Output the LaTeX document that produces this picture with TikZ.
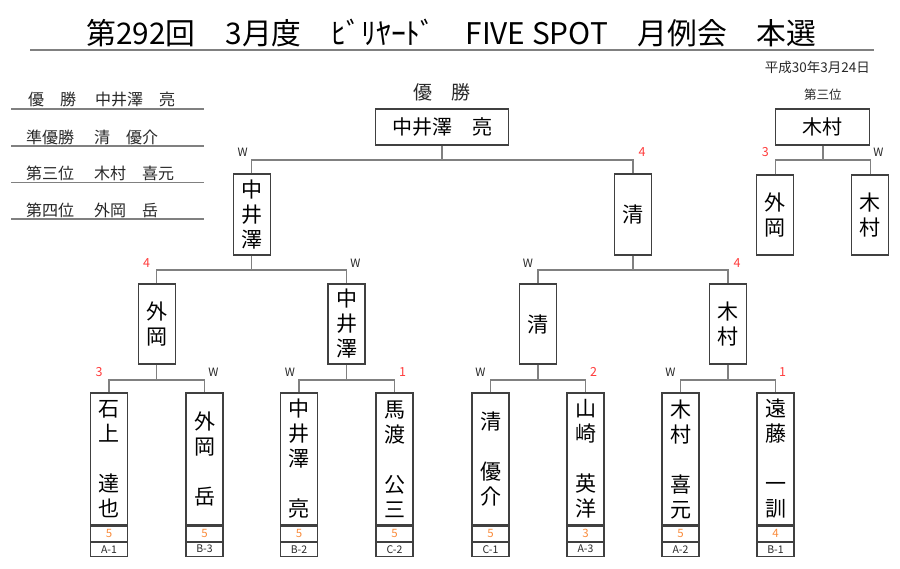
\documentclass[tikz,border=0pt]{standalone}
\usepackage{fontspec}
\setmainfont{Noto Sans CJK JP}
\definecolor{boxc}{RGB}{64,64,64}
\definecolor{lnc}{RGB}{128,128,128}
\definecolor{txtc}{RGB}{40,40,40}
\definecolor{redc}{RGB}{255,60,60}
\definecolor{orc}{RGB}{250,140,60}
\tikzset{
 pbox/.style={draw=boxc, line width=1.1pt, fill=white, inner sep=0pt, minimum width=37pt, align=center, font=\fontsize{21}{25}\selectfont, text=black},
 conn/.style={draw=lnc, line width=1.5pt},
 lline/.style={draw=lnc, line width=1.5pt},
 wlab/.style={font=\fontsize{11.5}{13}\selectfont, text=txtc, inner sep=0pt},
 nlab/.style={font=\fontsize{12.5}{14}\selectfont, text=redc, inner sep=0pt},
 score/.style={draw=boxc, line width=1.1pt, minimum width=37pt, minimum height=15pt, inner sep=0pt, font=\fontsize{11.5}{13}\selectfont, text=orc},
 codebox/.style={draw=boxc, line width=1.1pt, minimum width=37pt, minimum height=14pt, inner sep=0pt, font=\fontsize{10.5}{12}\selectfont, text=txtc},
 ltxt/.style={font=\fontsize{16}{18}\selectfont, text=txtc, inner sep=0pt, anchor=west},
}
\begin{document}
\begin{tikzpicture}[x=1pt,y=-1pt]
\useasboundingbox[fill=white] (0,0) rectangle (900,568);
% title
\node[font=\fontsize{29.8}{36}\selectfont, text=black, inner sep=0pt] (title) at (451.5,33) {第292回　3月度　ﾋﾞﾘﾔｰﾄﾞ　FIVE SPOT　月例会　本選};
\coordinate (tl) at (30,50); \coordinate (tr) at (874,50);
\draw[draw=lnc, line width=2.6pt] (tl) -- (tr);
\node[font=\fontsize{13.5}{15}\selectfont, text=txtc, inner sep=0pt, anchor=east] (date) at (870,67) {平成30年3月24日};
% results list
\node[ltxt] (la1) at (28,99) {優　勝};
\node[ltxt] (lb1) at (95,99) {中井澤　亮};
\node[ltxt] (la2) at (26,137) {準優勝};
\node[ltxt] (lb2) at (94,137) {清　優介};
\node[ltxt] (la3) at (26,173) {第三位};
\node[ltxt] (lb3) at (94,173) {木村　喜元};
\node[ltxt] (la4) at (26,210) {第四位};
\node[ltxt] (lb4) at (94,210) {外岡　岳};
\foreach \yy in {109,146,182.5,219} {\draw[lline] (11,\yy) -- (204,\yy);}
% champion
\node[font=\fontsize{19}{22}\selectfont, text=txtc, inner sep=0pt] (champlab) at (442,92) {優　勝};
\node[pbox, minimum width=133pt, minimum height=36pt, font=\fontsize{20}{24}\selectfont] (champ) at (442.2,127) {中井澤　亮};
% semifinal
\node[pbox, minimum height=81pt] (sf1) at (251.7,214.5) {中\\井\\澤};
\node[pbox, minimum height=81pt] (sf2) at (633,214.5) {清};
% quarterfinal
\node[pbox, minimum height=80pt] (qf1) at (156.7,324) {外\\岡};
\node[pbox, minimum height=80pt] (qf2) at (346.5,324) {中\\井\\澤};
\node[pbox, minimum height=80pt] (qf3) at (538,324) {清};
\node[pbox, minimum height=80pt] (qf4) at (728,324) {木\\村};
% round 1
\node[pbox, minimum height=132pt] (r1) at (109,459) {石\\上\\\mbox{}\\達\\也};
\node[pbox, minimum height=132pt] (r2) at (204.5,459) {外\\岡\\\mbox{}\\岳};
\node[pbox, minimum height=132pt] (r3) at (299,459) {中\\井\\澤\\\mbox{}\\亮};
\node[pbox, minimum height=132pt] (r4) at (394.5,459) {馬\\渡\\\mbox{}\\公\\三};
\node[pbox, minimum height=132pt] (r5) at (490.5,459) {清\\\mbox{}\\優\\介};
\node[pbox, minimum height=132pt] (r6) at (585.5,459) {山\\崎\\\mbox{}\\英\\洋};
\node[pbox, minimum height=132pt] (r7) at (680.5,459) {木\\村\\\mbox{}\\喜\\元};
\node[pbox, minimum height=132pt] (r8) at (775.5,459) {遠\\藤\\\mbox{}\\一\\訓};
\foreach \n/\s/\c in {r1/5/A-1, r2/5/B-3, r3/5/B-2, r4/5/C-2, r5/5/C-1, r6/3/A-3, r7/5/A-2, r8/4/B-1} {
  \node[score, anchor=north] (\n s) at (\n.south) {\s};
  \node[codebox, anchor=north] (\n c) at (\n s.south) {\c};
}
% third place
\node[font=\fontsize{12.5}{14}\selectfont, text=txtc, inner sep=0pt] (thirdlab) at (822.8,95) {第三位};
\node[pbox, minimum width=94pt, minimum height=36pt, font=\fontsize{20}{24}\selectfont] (third) at (822.8,127) {木村};
\node[pbox, minimum height=80pt] (tp1) at (775.3,215) {外\\岡};
\node[pbox, minimum height=80pt] (tp2) at (870.3,215) {木\\村};
% connectors
\coordinate (j0) at (0,160);
\coordinate (j1) at (0,270);
\coordinate (j2) at (0,380);
\draw[conn] (champ.south) -- (champ.south |- j0);
\draw[conn] (sf1.north) |- (j0 -| sf2.north) -- (sf2.north);
\draw[conn] (third.south) -- (third.south |- j0);
\draw[conn] (tp1.north) |- (j0 -| tp2.north) -- (tp2.north);
\foreach \p/\a/\b in {sf1/qf1/qf2, sf2/qf3/qf4} {
  \draw[conn] (\p.south) -- (\p.south |- j1);
  \draw[conn] (\a.north) |- (j1 -| \b.north) -- (\b.north);
}
\foreach \p/\a/\b in {qf1/r1/r2, qf2/r3/r4, qf3/r5/r6, qf4/r7/r8} {
  \draw[conn] (\p.south) -- (\p.south |- j2);
  \draw[conn] (\a.north) |- (j2 -| \b.north) -- (\b.north);
}
% result labels
\node[wlab] (lsf1) at ([xshift=-9pt,yshift=21pt]sf1.north) {W};
\node[nlab] (lsf2) at ([xshift=9pt,yshift=21pt]sf2.north) {4};
\node[nlab] (ltp1) at ([xshift=-10pt,yshift=22pt]tp1.north) {3};
\node[wlab] (ltp2) at ([xshift=8pt,yshift=22pt]tp2.north) {W};
\node[nlab] (lqf1) at ([xshift=-10pt,yshift=20pt]qf1.north) {4};
\node[wlab] (lqf2) at ([xshift=9pt,yshift=20pt]qf2.north) {W};
\node[wlab] (lqf3) at ([xshift=-10pt,yshift=20pt]qf3.north) {W};
\node[nlab] (lqf4) at ([xshift=9pt,yshift=20pt]qf4.north) {4};
\node[nlab] (lr1) at ([xshift=-10pt,yshift=20pt]r1.north) {3};
\node[wlab] (lr2) at ([xshift=9pt,yshift=20pt]r2.north) {W};
\node[wlab] (lr3) at ([xshift=-9pt,yshift=20pt]r3.north) {W};
\node[nlab] (lr4) at ([xshift=8pt,yshift=20pt]r4.north) {1};
\node[wlab] (lr5) at ([xshift=-10pt,yshift=20pt]r5.north) {W};
\node[nlab] (lr6) at ([xshift=8pt,yshift=20pt]r6.north) {2};
\node[wlab] (lr7) at ([xshift=-10pt,yshift=20pt]r7.north) {W};
\node[nlab] (lr8) at ([xshift=7pt,yshift=20pt]r8.north) {1};
\end{tikzpicture}
\end{document}
